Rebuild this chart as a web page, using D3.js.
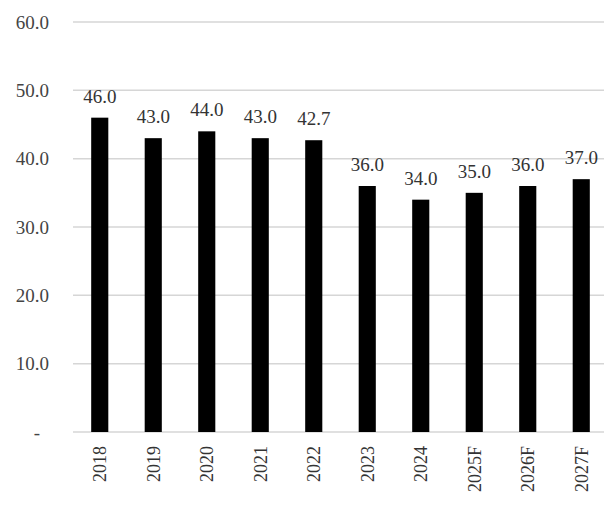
<!DOCTYPE html>
<html><head><meta charset="utf-8">
<script src="https://cdn.jsdelivr.net/npm/d3@7/dist/d3.min.js"></script>
<style>body{margin:0;background:#fff;}svg{display:block;}</style>
</head><body>
<svg id="c" width="604" height="512"></svg>
<script>
const categories = ["2018","2019","2020","2021","2022","2023","2024","2025F","2026F","2027F"];
const values = [46.0,43.0,44.0,43.0,42.7,36.0,34.0,35.0,36.0,37.0];
const valueLabels = ["46.0","43.0","44.0","43.0","42.7","36.0","34.0","35.0","36.0","37.0"];
const yTicks = [0,10,20,30,40,50,60];

const svg = d3.select("#c");
const font = "'Liberation Serif', 'Times New Roman', serif";
const x = d3.scaleBand().domain(categories).range([73, 608]).paddingInner(0.68).paddingOuter(0.34);
const y = d3.scaleLinear().domain([0, 60]).range([432, 22]);

// gridlines
svg.append("g").selectAll("line").data(yTicks).join("line")
  .attr("x1", 73).attr("x2", 604)
  .attr("y1", d => y(d)).attr("y2", d => y(d))
  .attr("stroke", "#d6d6d6").attr("stroke-width", 1.5);

// y axis labels
const yAxis = d3.axisLeft(y).tickValues(yTicks).tickSize(0).tickPadding(0)
  .tickFormat(d => d === 0 ? "-" : d3.format(".1f")(d));
const gy = svg.append("g").attr("transform", "translate(49,0)").call(yAxis);
gy.select(".domain").remove();
gy.selectAll("text").attr("font-family", font).attr("font-size", 19).attr("fill", "#444")
  .attr("dx", d => d === 0 ? -9 : 0);

// bars
svg.append("g").selectAll("rect").data(values).join("rect")
  .attr("x", (d, i) => x(categories[i]))
  .attr("width", x.bandwidth())
  .attr("y", d => y(d))
  .attr("height", d => y(0) - y(d))
  .attr("fill", "#000");

// value labels
svg.append("g").selectAll("text").data(values).join("text")
  .attr("x", (d, i) => x(categories[i]) + x.bandwidth() / 2)
  .attr("y", d => y(d) - 15)
  .attr("text-anchor", "middle")
  .attr("font-family", font).attr("font-size", 19).attr("fill", "#333")
  .text((d, i) => valueLabels[i]);

// x axis labels
const xAxis = d3.axisBottom(x).tickSize(0).tickPadding(0);
const gx = svg.append("g").attr("transform", `translate(0,${y(0)})`).call(xAxis);
gx.select(".domain").remove();
gx.selectAll("text")
  .attr("font-family", font).attr("font-size", 18).attr("fill", "#333")
  .attr("transform", "rotate(-90)")
  .attr("x", -14).attr("y", 0).attr("dy", "0.35em")
  .attr("text-anchor", "end");
</script>
</body></html>
